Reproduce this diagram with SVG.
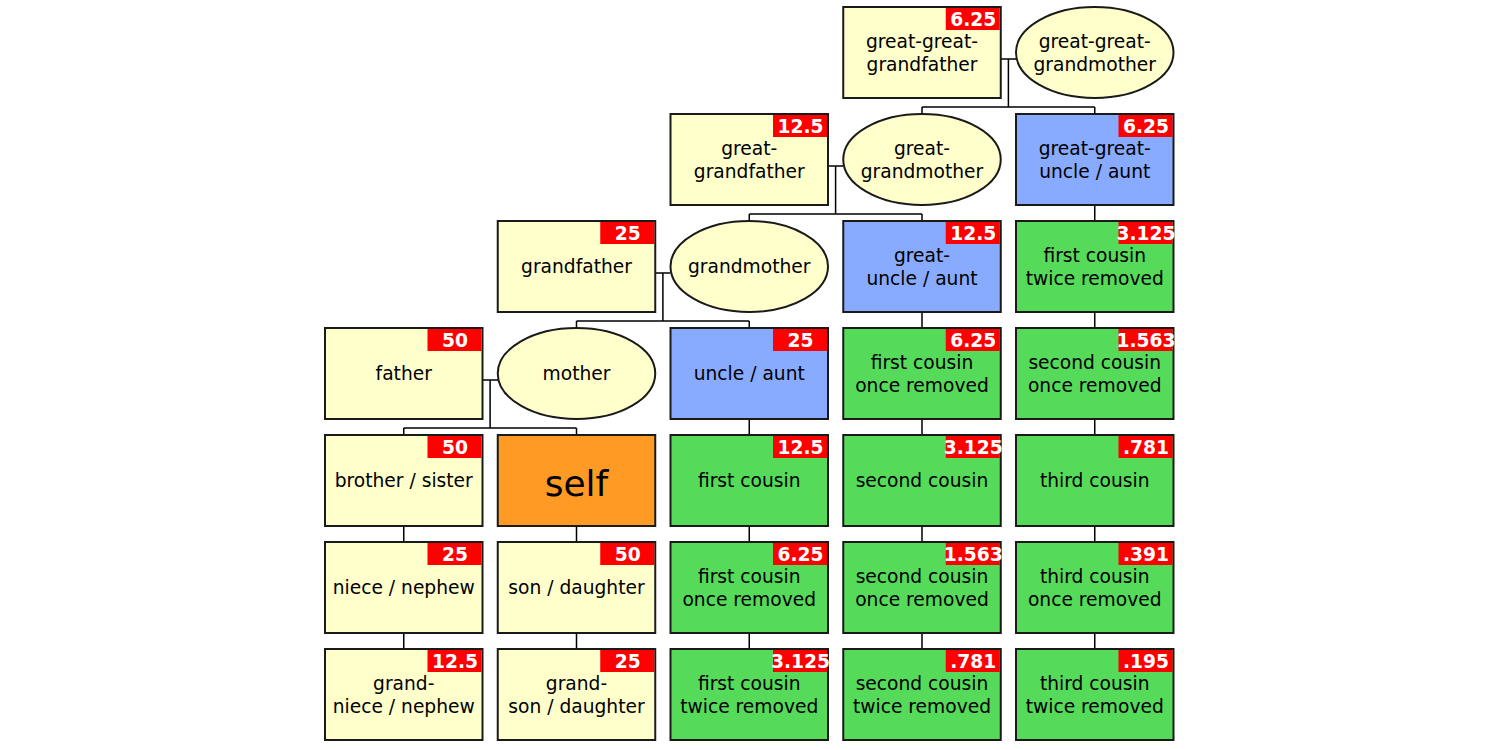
<svg xmlns="http://www.w3.org/2000/svg" width="1500" height="750" viewBox="0 0 1500 750">
<style>
.n{stroke:#1a1a1a;stroke-width:2}
.y{fill:#ffffcc}
.b{fill:#88aaff}
.g{fill:#55da5a}
.o{fill:#ff9a25}
.bd{fill:#ff0000}
.t{font-family:"DejaVu Sans",Verdana,sans-serif;font-size:18.67px;fill:#000;text-anchor:middle}
.bt{font-family:"DejaVu Sans",Verdana,sans-serif;font-size:18.67px;font-weight:bold;fill:#fff;text-anchor:middle}
.s{font-family:"DejaVu Sans",Verdana,sans-serif;font-size:36px;fill:#000;text-anchor:middle}
.c{fill:none;stroke:#000;stroke-width:1.5}
</style>
<rect width="1500" height="750" fill="#fff"/>
<g id="connectors" class="c">
<path d="M1000.75 59H1016M1008.4 59V107M922 107H1094.75M922 107V114M1094.75 107V114"/>
<path d="M828 166H843.25M835.6 166V214M749.25 214H922M749.25 214V221M922 214V221"/>
<path d="M655.25 273H670.5M662.9 273V321M576.5 321H749.25M576.5 321V328M749.25 321V328"/>
<path d="M482.5 380H498M490.1 380V428M403.75 428H576.5M403.75 428V435M576.5 428V435"/>
<path d="M1094.75 205V221M1094.75 312V328M1094.75 419V435M1094.75 526V542M1094.75 633V649"/>
<path d="M922 312V328M922 419V435M922 526V542M922 633V649"/>
<path d="M749.25 419V435M749.25 526V542M749.25 633V649"/>
<path d="M403.75 526V542M403.75 633V649"/>
<path d="M576.5 526V542M576.5 633V649"/>
</g>
<g id="ggf"><rect class="n y" x="843.25" y="7" width="157.5" height="91"/><rect class="bd" x="945.75" y="8" width="54" height="22"/><text class="bt" x="973.25" y="26">6.25</text><text class="t" x="922" y="48.3">great-great-</text><text class="t" x="922" y="70.7">grandfather</text></g>
<g id="ggm"><ellipse class="n y" cx="1094.75" cy="52.5" rx="78.75" ry="45.5"/><text class="t" x="1094.75" y="48.3">great-great-</text><text class="t" x="1094.75" y="70.7">grandmother</text></g>
<g id="gf"><rect class="n y" x="670.5" y="114" width="157.5" height="91"/><rect class="bd" x="773" y="115" width="54" height="22"/><text class="bt" x="800.5" y="133">12.5</text><text class="t" x="749.25" y="155.3">great-</text><text class="t" x="749.25" y="177.7">grandfather</text></g>
<g id="gm"><ellipse class="n y" cx="922" cy="159.5" rx="78.75" ry="45.5"/><text class="t" x="922" y="155.3">great-</text><text class="t" x="922" y="177.7">grandmother</text></g>
<g id="ggua"><rect class="n b" x="1016" y="114" width="157.5" height="91"/><rect class="bd" x="1118.5" y="115" width="54" height="22"/><text class="bt" x="1146" y="133">6.25</text><text class="t" x="1094.75" y="155.3">great-great-</text><text class="t" x="1094.75" y="177.7">uncle / aunt</text></g>
<g id="grandfather"><rect class="n y" x="497.75" y="221" width="157.5" height="91"/><rect class="bd" x="600.25" y="222" width="54" height="22"/><text class="bt" x="627.75" y="240">25</text><text class="t" x="576.5" y="273.3">grandfather</text></g>
<g id="grandmother"><ellipse class="n y" cx="749.25" cy="266.5" rx="78.75" ry="45.5"/><text class="t" x="749.25" y="273.3">grandmother</text></g>
<g id="gua"><rect class="n b" x="843.25" y="221" width="157.5" height="91"/><rect class="bd" x="945.75" y="222" width="54" height="22"/><text class="bt" x="973.25" y="240">12.5</text><text class="t" x="922" y="262.3">great-</text><text class="t" x="922" y="284.7">uncle / aunt</text></g>
<g id="fc2r-a"><rect class="n g" x="1016" y="221" width="157.5" height="91"/><rect class="bd" x="1118.5" y="222" width="54" height="22"/><text class="bt" x="1146" y="240">3.125</text><text class="t" x="1094.75" y="262.3">first cousin</text><text class="t" x="1094.75" y="284.7">twice removed</text></g>
<g id="father"><rect class="n y" x="325" y="328" width="157.5" height="91"/><rect class="bd" x="427.5" y="329" width="54" height="22"/><text class="bt" x="455" y="347">50</text><text class="t" x="403.75" y="380.3">father</text></g>
<g id="mother"><ellipse class="n y" cx="576.5" cy="373.5" rx="78.75" ry="45.5"/><text class="t" x="576.5" y="380.3">mother</text></g>
<g id="ua"><rect class="n b" x="670.5" y="328" width="157.5" height="91"/><rect class="bd" x="773" y="329" width="54" height="22"/><text class="bt" x="800.5" y="347">25</text><text class="t" x="749.25" y="380.3">uncle / aunt</text></g>
<g id="fc1r-a"><rect class="n g" x="843.25" y="328" width="157.5" height="91"/><rect class="bd" x="945.75" y="329" width="54" height="22"/><text class="bt" x="973.25" y="347">6.25</text><text class="t" x="922" y="369.3">first cousin</text><text class="t" x="922" y="391.7">once removed</text></g>
<g id="sc1r-a"><rect class="n g" x="1016" y="328" width="157.5" height="91"/><rect class="bd" x="1118.5" y="329" width="54" height="22"/><text class="bt" x="1146" y="347">1.563</text><text class="t" x="1094.75" y="369.3">second cousin</text><text class="t" x="1094.75" y="391.7">once removed</text></g>
<g id="sibling"><rect class="n y" x="325" y="435" width="157.5" height="91"/><rect class="bd" x="427.5" y="436" width="54" height="22"/><text class="bt" x="455" y="454">50</text><text class="t" x="403.75" y="487.3">brother / sister</text></g>
<g id="self"><rect class="n o" x="497.75" y="435" width="157.5" height="91"/><text class="s" x="576.5" y="496">self</text></g>
<g id="fc"><rect class="n g" x="670.5" y="435" width="157.5" height="91"/><rect class="bd" x="773" y="436" width="54" height="22"/><text class="bt" x="800.5" y="454">12.5</text><text class="t" x="749.25" y="487.3">first cousin</text></g>
<g id="sc"><rect class="n g" x="843.25" y="435" width="157.5" height="91"/><rect class="bd" x="945.75" y="436" width="54" height="22"/><text class="bt" x="973.25" y="454">3.125</text><text class="t" x="922" y="487.3">second cousin</text></g>
<g id="tc"><rect class="n g" x="1016" y="435" width="157.5" height="91"/><rect class="bd" x="1118.5" y="436" width="54" height="22"/><text class="bt" x="1146" y="454">.781</text><text class="t" x="1094.75" y="487.3">third cousin</text></g>
<g id="niece"><rect class="n y" x="325" y="542" width="157.5" height="91"/><rect class="bd" x="427.5" y="543" width="54" height="22"/><text class="bt" x="455" y="561">25</text><text class="t" x="403.75" y="594.3">niece / nephew</text></g>
<g id="child"><rect class="n y" x="497.75" y="542" width="157.5" height="91"/><rect class="bd" x="600.25" y="543" width="54" height="22"/><text class="bt" x="627.75" y="561">50</text><text class="t" x="576.5" y="594.3">son / daughter</text></g>
<g id="fc1r-b"><rect class="n g" x="670.5" y="542" width="157.5" height="91"/><rect class="bd" x="773" y="543" width="54" height="22"/><text class="bt" x="800.5" y="561">6.25</text><text class="t" x="749.25" y="583.3">first cousin</text><text class="t" x="749.25" y="605.7">once removed</text></g>
<g id="sc1r-b"><rect class="n g" x="843.25" y="542" width="157.5" height="91"/><rect class="bd" x="945.75" y="543" width="54" height="22"/><text class="bt" x="973.25" y="561">1.563</text><text class="t" x="922" y="583.3">second cousin</text><text class="t" x="922" y="605.7">once removed</text></g>
<g id="tc1r"><rect class="n g" x="1016" y="542" width="157.5" height="91"/><rect class="bd" x="1118.5" y="543" width="54" height="22"/><text class="bt" x="1146" y="561">.391</text><text class="t" x="1094.75" y="583.3">third cousin</text><text class="t" x="1094.75" y="605.7">once removed</text></g>
<g id="grandniece"><rect class="n y" x="325" y="649" width="157.5" height="91"/><rect class="bd" x="427.5" y="650" width="54" height="22"/><text class="bt" x="455" y="668">12.5</text><text class="t" x="403.75" y="690.3">grand-</text><text class="t" x="403.75" y="712.7">niece / nephew</text></g>
<g id="grandchild"><rect class="n y" x="497.75" y="649" width="157.5" height="91"/><rect class="bd" x="600.25" y="650" width="54" height="22"/><text class="bt" x="627.75" y="668">25</text><text class="t" x="576.5" y="690.3">grand-</text><text class="t" x="576.5" y="712.7">son / daughter</text></g>
<g id="fc2r-b"><rect class="n g" x="670.5" y="649" width="157.5" height="91"/><rect class="bd" x="773" y="650" width="54" height="22"/><text class="bt" x="800.5" y="668">3.125</text><text class="t" x="749.25" y="690.3">first cousin</text><text class="t" x="749.25" y="712.7">twice removed</text></g>
<g id="sc2r"><rect class="n g" x="843.25" y="649" width="157.5" height="91"/><rect class="bd" x="945.75" y="650" width="54" height="22"/><text class="bt" x="973.25" y="668">.781</text><text class="t" x="922" y="690.3">second cousin</text><text class="t" x="922" y="712.7">twice removed</text></g>
<g id="tc2r"><rect class="n g" x="1016" y="649" width="157.5" height="91"/><rect class="bd" x="1118.5" y="650" width="54" height="22"/><text class="bt" x="1146" y="668">.195</text><text class="t" x="1094.75" y="690.3">third cousin</text><text class="t" x="1094.75" y="712.7">twice removed</text></g>
</svg>
